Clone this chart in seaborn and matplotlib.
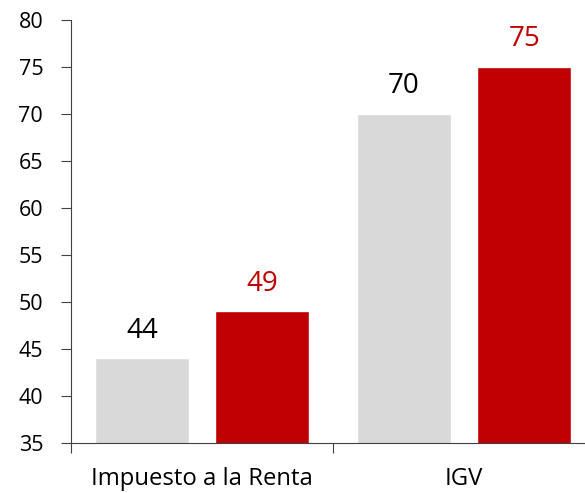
import matplotlib
matplotlib.use("Agg")
import matplotlib.pyplot as plt
import seaborn as sns
import pandas as pd

# datos del gráfico
categorias = ["Impuesto a la Renta", "IGV"]
serie_1 = [44, 70]
serie_2 = [49, 75]
nombres_series = ["Serie 1", "Serie 2"]
yticks = [35, 40, 45, 50, 55, 60, 65, 70, 75, 80]

sns.set_theme(style="white")
plt.rcParams["font.family"] = ["Open Sans", "DejaVu Sans"]

df = pd.DataFrame({
    "Categoria": categorias * 2,
    "Serie": [nombres_series[0]] * 2 + [nombres_series[1]] * 2,
    "Valor": serie_1 + serie_2,
})

colores = ["#D9D9D9", "#C00000"]

fig = plt.figure(figsize=(5.85, 4.93), dpi=100)
ax = fig.add_axes([0.1214, 0.1014, 0.8786, 0.858])

sns.barplot(data=df, x="Categoria", y="Valor", hue="Serie", palette=colores,
            width=0.92, gap=0.22, legend=False, ax=ax, saturation=1)

for cont, col in zip(ax.containers, ["black", "#C00000"]):
    ax.bar_label(cont, fmt="%d", color=col, fontsize=20, padding=10)

ax.set_yticks(yticks)
ax.set_xticks([0, 1])
ax.set_xticklabels(categorias, fontsize=17.2)
ax.set_xticks([-0.5, 0.5, 1.5], minor=True)
ax.set_ylim(35, 80)
ax.set_xlim(-0.5, 1.462)
ax.set_xlabel("")
ax.set_ylabel("")

ax.tick_params(axis="x", which="major", length=0, pad=17, labelcolor="black")
ax.tick_params(axis="x", which="minor", length=7, width=0.8, color="#404040", direction="out", bottom=True)
ax.tick_params(axis="y", length=7, width=0.8, color="#404040", direction="out", left=True,
               labelsize=15.5, pad=13, labelcolor="black")

for s in ["top", "right"]:
    ax.spines[s].set_visible(False)
for s in ["left", "bottom"]:
    ax.spines[s].set_color("#404040")
    ax.spines[s].set_linewidth(0.8)

fig.savefig("out.png", dpi=100)
